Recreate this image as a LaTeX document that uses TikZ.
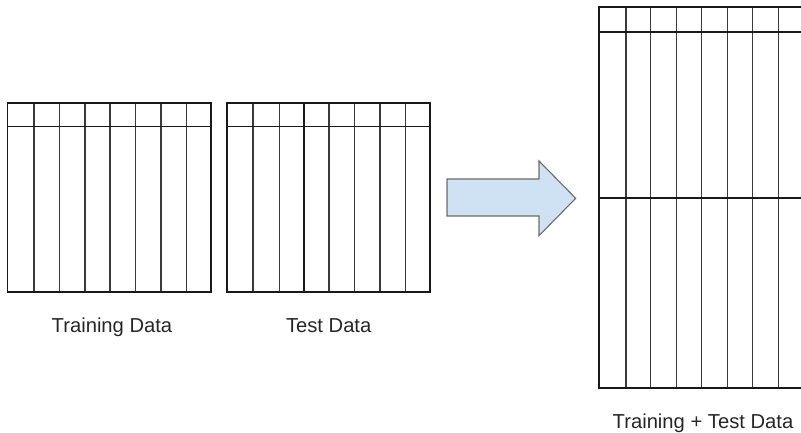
\documentclass[tikz,border=0pt]{standalone}
\usepackage{fontspec}
\setmainfont{Liberation Sans}
\definecolor{arrowfill}{HTML}{CFE2F3}
\definecolor{arrowedge}{HTML}{6B6B6B}
\definecolor{gridline}{HTML}{3A3A3A}
\begin{document}
\begin{tikzpicture}[x=1pt,y=-1pt,
  outer/.style={draw=black!90,line width=1.7pt},
  thickline/.style={draw=black!90,line width=1.7pt},
  colline/.style={draw=gridline,line width=1.2pt},
  lbl/.style={inner sep=0pt,anchor=base,font=\fontsize{20.2}{24}\selectfont,text=black!85}]
\useasboundingbox (0,0) rectangle (801,433);
\clip (0,0) rectangle (801,433);
% Training table
\foreach \x in {34,59.5,85,110,135.5,161,186.5} \draw[colline] (\x,103) -- (\x,292);
\draw[thickline] (7.5,126.5) -- (211,126.5);
\draw[outer] (7.5,103) rectangle (211,292);
% Test table
\foreach \x in {253,279.3,329,354.7,380,405.7} \draw[colline] (\x,103) -- (\x,292);
\draw[thickline,line width=1.4pt] (304,103) -- (304,292);
\draw[thickline] (226.7,126.5) -- (430,126.5);
\draw[outer] (226.7,103) rectangle (430,292);
% Arrow
\draw[fill=arrowfill,draw=arrowedge,line width=1.1pt,line join=miter]
  (447,179) -- (539,179) -- (539,161) -- (575.7,198.3) -- (539,235.7) -- (539,216) -- (447,216) -- cycle;
% Combined table
\foreach \x in {626,650.7,676.7,701.7,727.7,752.3,778.3} \draw[colline] (\x,7.3) -- (\x,388.3);
\draw[thickline] (599,31.7) -- (810,31.7);
\draw[thickline] (599,197.7) -- (810,197.7);
\draw[outer] (599,7.3) rectangle (810,388.3);
% Labels
\node[lbl] (train) at (112,332) {Training Data};
\node[lbl] (test) at (328.7,332) {Test Data};
\node[lbl] (both) at (703,428) {Training + Test Data};
\end{tikzpicture}
\end{document}
